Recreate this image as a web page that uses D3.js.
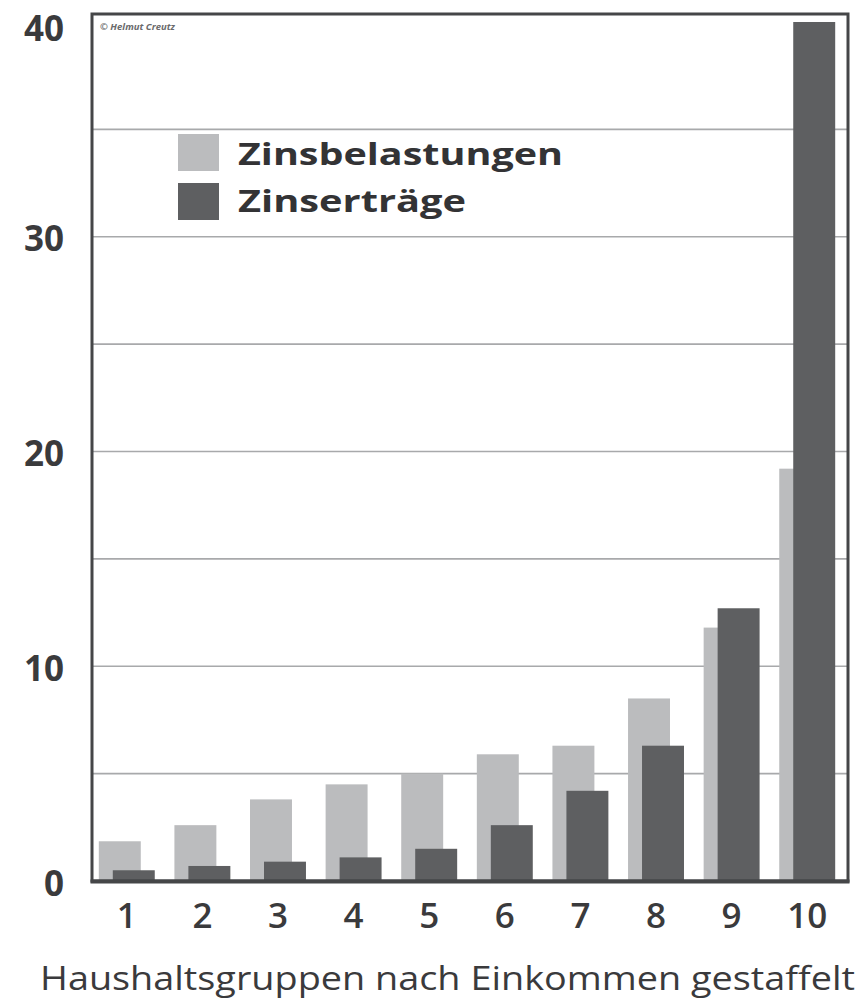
<!DOCTYPE html>
<html>
<head>
<meta charset="utf-8">
<script src="https://cdn.jsdelivr.net/npm/d3@7"></script>
<style>
  body { margin: 0; background: #ffffff; }
  svg { display: block; font-family: "Open Sans", "Noto Sans", sans-serif; }
</style>
</head>
<body>
<div id="chart"></div>
<script>
const groups = ['1', '2', '3', '4', '5', '6', '7', '8', '9', '10'];
const zinsbelastungen = [1.85, 2.6, 3.8, 4.5, 5.0, 5.9, 6.3, 8.5, 11.8, 19.2];
const zinsertraege = [0.5, 0.7, 0.9, 1.1, 1.5, 2.6, 4.2, 6.3, 12.7, 40];
const yTicks = [0, 10, 20, 30, 40];
const gridValues = [5, 10, 15, 20, 25, 30, 35];
const seriesNames = ['Zinsbelastungen', 'Zinserträge'];

const W = 860, H = 1001;
const frame = { left: 92, right: 848, top: 14, bottom: 881 };
const colors = ['#bbbcbe', '#5e5f61'];

const svg = d3.select('#chart')
  .append('svg')
  .attr('width', W)
  .attr('height', H);

// Y-Skala
const yScale = d3.scaleLinear()
  .domain([0, 40])
  .range([frame.bottom, 22]);

// X-Skala
const xScale = d3.scaleBand()
  .domain(groups)
  .range([frame.left, 842])
  .paddingInner(0.26)
  .paddingOuter(0.09);
const bw = xScale.bandwidth();
const barW = bw * 0.75;
const shift = bw * 0.25;

// Gitterlinien
svg.append('g')
  .selectAll('line')
  .data(gridValues)
  .enter()
  .append('line')
  .attr('x1', frame.left)
  .attr('x2', frame.right)
  .attr('y1', d => yScale(d))
  .attr('y2', d => yScale(d))
  .attr('stroke', '#a8a9ab')
  .attr('stroke-width', 1.6);

// Balken
const rows = groups.map((g, i) => ({ g, a: zinsbelastungen[i], b: zinsertraege[i] }));
svg.append('g')
  .selectAll('rect')
  .data(rows)
  .enter()
  .append('rect')
  .attr('x', d => xScale(d.g))
  .attr('y', d => yScale(d.a))
  .attr('width', barW)
  .attr('height', d => yScale(0) - yScale(d.a))
  .attr('fill', colors[0]);
svg.append('g')
  .selectAll('rect')
  .data(rows)
  .enter()
  .append('rect')
  .attr('x', d => xScale(d.g) + shift)
  .attr('y', d => yScale(d.b))
  .attr('width', barW)
  .attr('height', d => yScale(0) - yScale(d.b))
  .attr('fill', colors[1]);

// Rahmen
svg.append('rect')
  .attr('x', frame.left)
  .attr('y', frame.top)
  .attr('width', frame.right - frame.left)
  .attr('height', frame.bottom - frame.top)
  .attr('fill', 'none')
  .attr('stroke', '#454648')
  .attr('stroke-width', 3);
svg.append('line')
  .attr('x1', frame.left - 1.5).attr('x2', frame.right + 1.5)
  .attr('y1', frame.bottom + 0.5).attr('y2', frame.bottom + 0.5)
  .attr('stroke', '#454648')
  .attr('stroke-width', 4);

// Y-Achse
const yAxis = svg.append('g')
  .attr('transform', `translate(${frame.left},0)`)
  .call(d3.axisLeft(yScale).tickValues(yTicks).tickSize(0).tickPadding(28));
yAxis.select('.domain').remove();
yAxis.selectAll('text')
  .attr('font-size', 35)
  .attr('font-weight', 700)
  .attr('fill', '#3a3a3c')
  .attr('dy', d => d === 40 ? '0.52em' : '0.4em')
  .attr('font-family', '"Open Sans", sans-serif');

// X-Achse
const xAxis = svg.append('g')
  .attr('transform', `translate(0,${frame.bottom})`)
  .call(d3.axisBottom(xScale).tickSize(0).tickPadding(22));
xAxis.select('.domain').remove();
xAxis.selectAll('text')
  .attr('font-size', 35)
  .attr('font-weight', 600)
  .attr('fill', '#3a3a3c')
  .attr('font-family', '"Open Sans", sans-serif');

// Achsentitel
svg.append('text')
  .attr('x', 40)
  .attr('y', 990)
  .attr('font-size', 33)
  .attr('fill', '#3a3a3c')
  .attr('textLength', 815)
  .attr('lengthAdjust', 'spacingAndGlyphs')
  .text('Haushaltsgruppen nach Einkommen gestaffelt');

// Legende
const legend = svg.append('g');
seriesNames.forEach((name, i) => {
  legend.append('rect')
    .attr('x', 178)
    .attr('y', 134 + i * 49)
    .attr('width', 41)
    .attr('height', 37)
    .attr('fill', colors[i]);
  legend.append('text')
    .attr('x', 238)
    .attr('y', 165 + i * 47)
    .attr('font-size', 30)
    .attr('font-weight', 700)
    .attr('fill', '#333335')
    .attr('textLength', i === 0 ? 325 : 228)
    .attr('lengthAdjust', 'spacingAndGlyphs')
    .text(name);
});

// Copyright
svg.append('text')
  .attr('x', 100)
  .attr('y', 30)
  .attr('font-size', 9.5)
  .attr('font-style', 'italic')
  .attr('font-weight', 700)
  .attr('fill', '#6a6a6c')
  .text('© Helmut  Creutz');
</script>
</body>
</html>
